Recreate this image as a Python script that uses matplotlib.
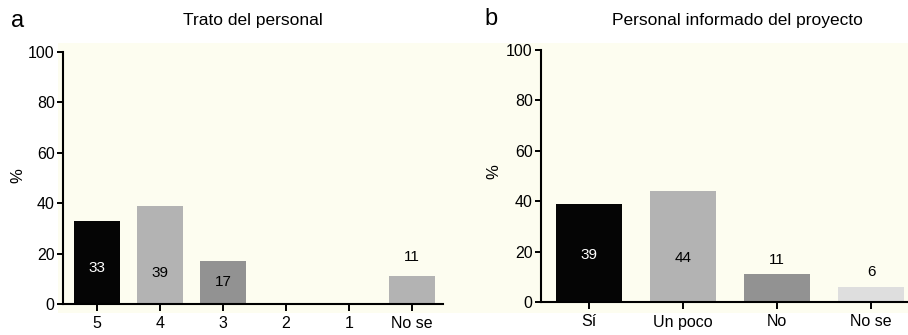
import matplotlib
matplotlib.use("Agg")
import matplotlib.pyplot as plt
from matplotlib.patches import Rectangle

plt.rcParams["font.family"] = ["Liberation Sans", "DejaVu Sans"]

# Data
cats_a = ["5", "4", "3", "2", "1", "No se"]
vals_a = [33, 39, 17, 0, 0, 11]
cats_b = ["Sí", "Un poco", "No", "No se"]
vals_b = [39, 44, 11, 6]

title_a = "Trato del personal"
title_b = "Personal informado del proyecto"

# styling
cols_a = ["#050505", "#b3b3b3", "#929292", "#b3b3b3", "#b3b3b3", "#b3b3b3"]
cols_b = ["#050505", "#b3b3b3", "#929292", "#dedede"]
# where each value label sits (in data units), None = no label
lab_y_a = [14.3, 12.3, 8.7, None, None, 18.7]
lab_y_b = [18.7, 17.5, 16.7, 12.0]
lab_c_a = ["white", "black", "black", "black", "black", "black"]
lab_c_b = ["white", "black", "black", "black"]

W, H = 908, 335
fig = plt.figure(figsize=(W / 100, H / 100), dpi=100)

# faint cream panel behind both charts
fig.patches.append(Rectangle((58 / W, 1 - 313 / H), (W - 58) / W, 270 / H,
                             transform=fig.transFigure, facecolor="#fdfdf0",
                             edgecolor="none", zorder=-10))


def draw(ax, cats, vals, cols, lab_y, lab_c, width, xlim):
    x = list(range(len(cats)))
    ax.bar(x, vals, width=width, color=cols, zorder=2)
    for xi, v, ly, lc in zip(x, vals, lab_y, lab_c):
        if ly is not None:
            ax.text(xi, ly, str(v), ha="center", va="center", fontsize=11,
                    color=lc, zorder=3)
    ax.set_xlim(*xlim)
    ax.set_ylim(0, 100)
    ax.set_yticks(range(0, 101, 20))
    ax.set_xticks(x)
    ax.set_xticklabels(cats)
    ax.patch.set_visible(False)
    for s in ["top", "right"]:
        ax.spines[s].set_visible(False)
    for s in ["left", "bottom"]:
        ax.spines[s].set_linewidth(1.5)
    ax.tick_params(axis="y", length=4, width=1.4, labelsize=11.5, pad=2)
    ax.tick_params(axis="x", length=5, width=1.4, labelsize=11.5, pad=4)


ax1 = fig.add_axes([63 / W, 1 - 304 / H, 380 / W, 252 / H])
draw(ax1, cats_a, vals_a, cols_a, lab_y_a, lab_c_a, 0.73, (-0.54, 5.49))

ax2 = fig.add_axes([541 / W, 1 - 302 / H, (W - 541) / W, 252 / H])
draw(ax2, cats_b, vals_b, cols_b, lab_y_b, lab_c_b, 0.70, (-0.51, 3.39))

fig.text(18 / W, 1 - 176 / H, "%", rotation=90, ha="center", va="center", fontsize=12)
fig.text(494 / W, 1 - 172 / H, "%", rotation=90, ha="center", va="center", fontsize=12)

fig.text(18 / W, 1 - 21 / H, "a", ha="center", va="center", fontsize=17)
fig.text(491 / W, 1 - 19 / H, "b", ha="center", va="center", fontsize=17)
fig.text(253 / W, 1 - 21 / H, title_a, ha="center", va="center", fontsize=12.5)
fig.text(737 / W, 1 - 21 / H, title_b, ha="center", va="center", fontsize=12.5)

fig.savefig("out.png", dpi=100)
